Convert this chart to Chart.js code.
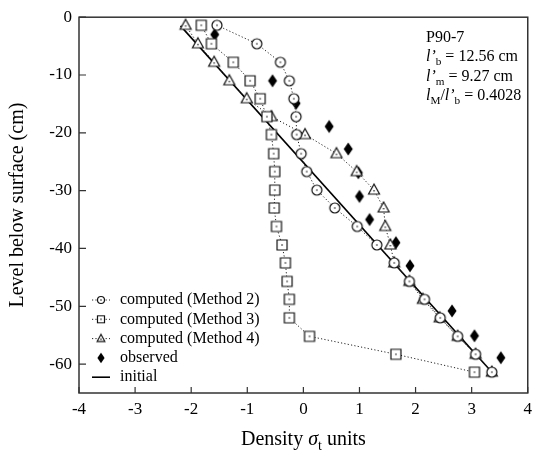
<!DOCTYPE html>
<html><head><meta charset="utf-8">
<script src="https://cdn.jsdelivr.net/npm/chart.js@4.4.0/dist/chart.umd.min.js"></script>
<style>html,body{margin:0;padding:0;background:#fff}canvas{display:block}</style>
</head><body>
<canvas id="c" width="538" height="456"></canvas>
<script>
// ---- data ----
const depthLevels = [-1.4,-4.6,-7.8,-11.0,-14.1,-17.2,-20.3,-23.6,-26.7,-29.9,-33.0,-36.2,-39.4,-42.5,-45.7,-48.8,-52.0,-55.2,-58.3,-61.4];
const method2 = [-1.54,-0.83,-0.41,-0.25,-0.17,-0.13,-0.12,-0.04,0.06,0.24,0.56,0.96,1.31,1.62,1.89,2.16,2.44,2.75,3.07,3.36];
const method3 = [-1.82,-1.64,-1.25,-0.95,-0.77,-0.65,-0.57,-0.53,-0.51,-0.51,-0.52,-0.48,-0.38,-0.32,-0.29,-0.25,-0.25,0.11,1.65,3.05];
const method4 = [-2.10,-1.88,-1.59,-1.32,-1.01,-0.57,0.03,0.59,0.95,1.26,1.43,1.46,1.55,1.62,1.89,2.13,2.43,2.75,3.07,3.36];
const observedDensity = [-1.58,-0.55,-0.13,0.46,0.80,0.98,1.00,1.18,1.65,1.90,2.65,3.05,3.52];
const observedDepth = [-3.0,-11.0,-14.9,-18.9,-22.8,-26.9,-31.0,-35.0,-39.0,-43.0,-50.8,-55.1,-58.9];
const initialDensity = [-2.19, 3.37];
const initialDepth = [-1.5, -61.5];
const seriesLabels = ['computed (Method 2)','computed (Method 3)','computed (Method 4)','observed','initial'];
const xTickStep = 1, yTickStep = 10;

// ---- marker images ----
function makeMarker(kind, s){
  const size = 16;
  const cv = document.createElement('canvas'); cv.width = cv.height = size;
  const g = cv.getContext('2d'); const c = size/2;
  g.lineWidth = 1.2; g.strokeStyle = '#111'; g.fillStyle = '#fff';
  g.beginPath();
  if (kind === 'diamond') {
    g.moveTo(c, c-6.5*s); g.lineTo(c+4.5*s, c); g.lineTo(c, c+6.5*s); g.lineTo(c-4.5*s, c); g.closePath();
    g.fillStyle = '#000'; g.fill(); return cv;
  }
  if (kind === 'circle') g.arc(c, c, 5*s, 0, Math.PI*2);
  else if (kind === 'square') g.rect(c-5*s, c-5*s, 10*s, 10*s);
  else if (kind === 'triangle') { g.moveTo(c, c-6*s); g.lineTo(c+5.5*s, c+4*s); g.lineTo(c-5.5*s, c+4*s); g.closePath(); }
  g.fill(); g.stroke();
  g.fillStyle = '#111'; g.beginPath(); g.arc(c, kind==='triangle' ? c+0.7*s : c, 0.8, 0, Math.PI*2); g.fill();
  return cv;
}
const mk = { circle: makeMarker('circle',1), square: makeMarker('square',1), triangle: makeMarker('triangle',1), diamond: makeMarker('diamond',1) };
const mkL = { circle: makeMarker('circle',0.7), square: makeMarker('square',0.7), triangle: makeMarker('triangle',0.7), diamond: makeMarker('diamond',0.8) };

const dotted = { borderColor:'#222', borderWidth:1, borderDash:[1.2,2.2], showLine:true, tension:0, pointRadius:5 };
const toXY = (xs, ys) => xs.map((v,i)=>({x:v, y:ys[i]}));

const SERIF = "'Liberation Serif', 'Times New Roman', serif";

function drawRich(ctx, x, y, segs, base, align){
  const widths = segs.map(([t, st]) => {
    ctx.font = (st==='i' ? 'italic ' : '') + (st==='sub' ? base*0.7 : base) + 'px ' + SERIF;
    return ctx.measureText(t).width;
  });
  let total = widths.reduce((a,b)=>a+b,0);
  let cx = align==='center' ? x - total/2 : x;
  segs.forEach(([t, st], i) => {
    ctx.font = (st==='i' ? 'italic ' : '') + (st==='sub' ? base*0.7 : base) + 'px ' + SERIF;
    ctx.fillText(t, cx, st==='sub' ? y + base*0.25 : y);
    cx += widths[i];
  });
}

const overlay = {
  id:'overlay',
  beforeDatasetsDraw(chart){
    const {ctx, chartArea:a} = chart;
    ctx.save();
    ctx.strokeStyle = '#333'; ctx.lineWidth = 1.5;
    ctx.strokeRect(a.left, a.top, a.right-a.left, a.bottom-a.top);
    ctx.restore();
  },
  afterDraw(chart){
    const {ctx, chartArea:a, scales:{x, y}} = chart;
    ctx.save();
    ctx.strokeStyle = '#333'; ctx.lineWidth = 1.2;
    ctx.beginPath();
    x.ticks.forEach(t => { const px = x.getPixelForValue(t.value); ctx.moveTo(px, a.bottom); ctx.lineTo(px, a.bottom-6); });
    y.ticks.forEach(t => { const py = y.getPixelForValue(t.value); ctx.moveTo(a.left, py); ctx.lineTo(a.left+7, py); });
    ctx.stroke();

    // legend
    const ds = chart.data.datasets;
    const lx0 = 92, lx1 = 110, lmx = 101, tx = 120;
    const markers = [mkL.circle, mkL.square, mkL.triangle, mkL.diamond, null];
    ctx.textBaseline = 'middle'; ctx.textAlign = 'left'; ctx.fillStyle = '#000';
    ds.forEach((d, i) => {
      const ry = 300 + i*19.3;
      if (d.showLine) {
        ctx.save();
        ctx.strokeStyle = d.borderColor; ctx.lineWidth = d.borderWidth;
        ctx.setLineDash(d.borderDash || []);
        ctx.beginPath(); ctx.moveTo(lx0, ry); ctx.lineTo(lx1, ry); ctx.stroke();
        ctx.restore();
      }
      if (markers[i]) ctx.drawImage(markers[i], lmx - 8, ry - 8);
      ctx.font = '16px ' + SERIF;
      ctx.fillText(d.label, tx, ry);
    });

    // annotation
    ctx.textBaseline = 'alphabetic'; ctx.fillStyle = '#000';
    const ax = 426, fs = 16;
    drawRich(ctx, ax, 41.5, [['P90-7','']], fs);
    drawRich(ctx, ax, 61, [['l\u2019','i'],['b','sub'],[' = 12.56 cm','']], fs);
    drawRich(ctx, ax, 80.5, [['l\u2019','i'],['m','sub'],[' = 9.27 cm','']], fs);
    drawRich(ctx, ax, 100, [['l','i'],['M','sub'],['/','' ],['l\u2019','i'],['b','sub'],[' = 0.4028','']], fs);

    // x title
    drawRich(ctx, (a.left+a.right)/2, 445, [['Density ',''],['\u03C3','i'],['t','sub'],[' units','']], 20, 'center');

    // y title
    ctx.save();
    ctx.translate(23, (a.top+a.bottom)/2);
    ctx.rotate(-Math.PI/2);
    ctx.textAlign = 'center'; ctx.textBaseline = 'alphabetic';
    ctx.font = '20px ' + SERIF;
    ctx.fillText('Level below surface (cm)', 0, 0);
    ctx.restore();
    ctx.restore();
  }
};

const tickFont = { family:'Liberation Serif', size:17 };
new Chart(document.getElementById('c'), {
  type:'scatter',
  data:{ datasets:[
    { label:seriesLabels[0], data:toXY(method2, depthLevels), pointStyle:mk.circle, ...dotted },
    { label:seriesLabels[1], data:toXY(method3, depthLevels), pointStyle:mk.square, ...dotted },
    { label:seriesLabels[2], data:toXY(method4, depthLevels), pointStyle:mk.triangle, ...dotted },
    { label:seriesLabels[3], data:toXY(observedDensity, observedDepth), pointStyle:mk.diamond, pointRadius:5, showLine:false },
    { label:seriesLabels[4], data:toXY(initialDensity, initialDepth), showLine:true, pointRadius:0, borderColor:'#000', borderWidth:1.6, tension:0 }
  ]},
  options:{
    responsive:false, devicePixelRatio:1, animation:false,
    layout:{ padding:{ top:15, right:6, left:0, bottom:0 } },
    plugins:{ legend:{display:false}, tooltip:{enabled:false} },
    scales:{
      x:{ type:'linear', min:-4, max:4,
          ticks:{ stepSize:xTickStep, padding:6, font:tickFont, color:'#000', callback:v=>String(v) },
          grid:{ display:false, drawTicks:false }, border:{ display:false },
          afterFit:s=>{ s.height = 63; } },
      y:{ type:'linear', min:-65, max:0,
          ticks:{ stepSize:yTickStep, includeBounds:false, padding:7, font:tickFont, color:'#000', callback:v=>String(v) },
          grid:{ display:false, drawTicks:false }, border:{ display:false },
          afterFit:s=>{ s.width = 79; } }
    }
  },
  plugins:[overlay]
});
</script>
</body></html>
